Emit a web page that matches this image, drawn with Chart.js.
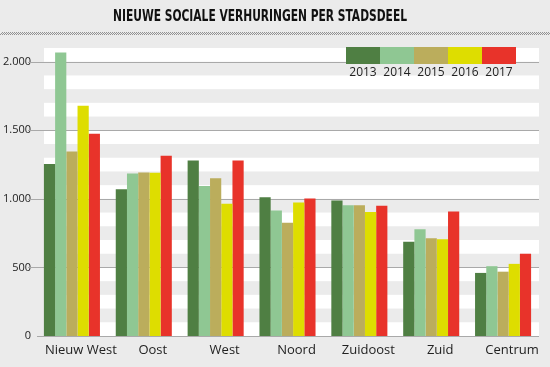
<!DOCTYPE html>
<html>
<head>
<meta charset="utf-8">
<script src="https://cdn.jsdelivr.net/npm/chart.js@4/dist/chart.umd.min.js"></script>
<style>
    html, body { margin: 0; background: #ebebeb; }
    #wrap { width: 550px; height: 367px; position: relative; }
</style>
</head>
<body>
<div id="wrap"><canvas id="verhuringen"></canvas></div>
<script>
const stadsdelen = ['Nieuw West', 'Oost', 'West', 'Noord', 'Zuidoost', 'Zuid', 'Centrum'];
const jaren = ['2013', '2014', '2015', '2016', '2017'];
const v2013 = [1255, 1070, 1280, 1012, 988, 688, 460];
const v2014 = [2068, 1185, 1093, 915, 954, 778, 509];
const v2015 = [1345, 1192, 1151, 825, 954, 713, 469];
const v2016 = [1679, 1190, 964, 973, 905, 706, 526];
const v2017 = [1474, 1314, 1280, 1002, 949, 907, 599];
const yTicks = [0, 500, 1000, 1500, 2000];
const yMax = 2100;
const bandStep = 100;

const palette = {
    donkergroen: '#4f7f43',
    lichtgroen: '#8fc793',
    oker: '#bbad5c',
    geel: '#dedd00',
    rood: '#e8332a',
    tekst: '#222222',
};

const kleuren = [palette.donkergroen, palette.lichtgroen, palette.oker, palette.geel, palette.rood];
const reeksen = [v2013, v2014, v2015, v2016, v2017];

function formatNL(v) {
    return String(v).replace(/\B(?=(\d{3})+(?!\d))/g, '.');
}

// witte en grijze banden achter de staven, plus rasterlijnen
const bandPlugin = {
    id: 'banden',
    beforeDatasetsDraw(chart) {
        const { ctx, chartArea, scales } = chart;
        const y = scales.y;
        const left = chartArea.left + 8;
        ctx.save();
        ctx.fillStyle = '#ffffff';
        for (let v = 0; v < yMax; v += bandStep) {
            if ((v / bandStep) % 2 !== 0) continue;
            const top = y.getPixelForValue(Math.min(v + bandStep, yMax));
            const bottom = y.getPixelForValue(v);
            ctx.fillRect(left, top, chartArea.right - left, bottom - top);
        }
        ctx.strokeStyle = '#a9a9a9';
        ctx.lineWidth = 1;
        yTicks.forEach((t) => {
            const py = Math.round(y.getPixelForValue(t)) + 0.5;
            ctx.beginPath();
            ctx.moveTo(t === 0 ? chartArea.left + 1 : chartArea.left - 8, py);
            ctx.lineTo(chartArea.right, py);
            ctx.stroke();
        });
        ctx.restore();
    },
};

const kopPlugin = {
    id: 'kop',
    afterDraw(chart) {
        const { ctx } = chart;
        const titel = 'NIEUWE SOCIALE VERHURINGEN PER STADSDEEL';
        ctx.save();
        ctx.fillStyle = '#111';
        ctx.font = "bold 15px 'DejaVu Sans Condensed', 'Liberation Sans Narrow', sans-serif";
        ctx.textAlign = 'center';
        ctx.textBaseline = 'middle';
        const breedte = ctx.measureText(titel).width;
        ctx.save();
        ctx.translate(260, 17);
        ctx.scale(294 / breedte, 1);
        ctx.fillText(titel, 0, 0);
        ctx.restore();

        ctx.strokeStyle = '#939393';
        ctx.lineWidth = 1;
        for (let x = 0; x < 550; x += 2) {
            ctx.beginPath();
            ctx.moveTo(x, 35);
            ctx.lineTo(x + 3, 32);
            ctx.stroke();
        }

        // legenda
        const x0 = 346;
        const w = 34;
        chart.data.datasets.forEach((ds, i) => {
            ctx.fillStyle = ds.backgroundColor;
            ctx.fillRect(x0 + i * w, 47, w, 17);
            ctx.fillStyle = palette.tekst;
            ctx.font = "12px 'Open Sans', sans-serif";
            ctx.fillText(ds.label, x0 + i * w + w / 2, 73);
        });
        ctx.restore();
    },
};

new Chart(document.getElementById('verhuringen'), {
    type: 'bar',
    data: {
        labels: stadsdelen,
        datasets: jaren.map((jaar, i) => ({
            label: jaar,
            data: reeksen[i],
            backgroundColor: kleuren[i],
            borderWidth: 0,
            categoryPercentage: 0.78,
            barPercentage: 1.0,
        })),
    },
    options: {
        responsive: true,
        maintainAspectRatio: false,
        animation: false,
        layout: { padding: { top: 48, right: 11, left: 0, bottom: 0 } },
        plugins: {
            legend: { display: false },
            title: { display: false },
            tooltip: { enabled: false },
        },
        scales: {
            x: {
                grid: { display: false, drawTicks: false },
                border: { display: false },
                ticks: {
                    color: palette.tekst,
                    font: { family: "'Open Sans', sans-serif", size: 13 },
                    padding: 6,
                    labelOffset: 9,
                    maxRotation: 0,
                    autoSkip: false,
                },
                afterFit(s) { s.height = 31; },
            },
            y: {
                min: 0,
                max: yMax,
                grid: { display: false, drawTicks: false },
                border: { display: false },
                ticks: {
                    color: palette.tekst,
                    font: { family: "'Open Sans', sans-serif", size: 11 },
                    padding: 5,
                    callback: (v) => formatNL(v),
                },
                afterBuildTicks(s) { s.ticks = yTicks.map((v) => ({ value: v })); },
                afterFit(s) { s.width = 36; },
            },
        },
    },
    plugins: [bandPlugin, kopPlugin],
});
</script>
</body>
</html>
